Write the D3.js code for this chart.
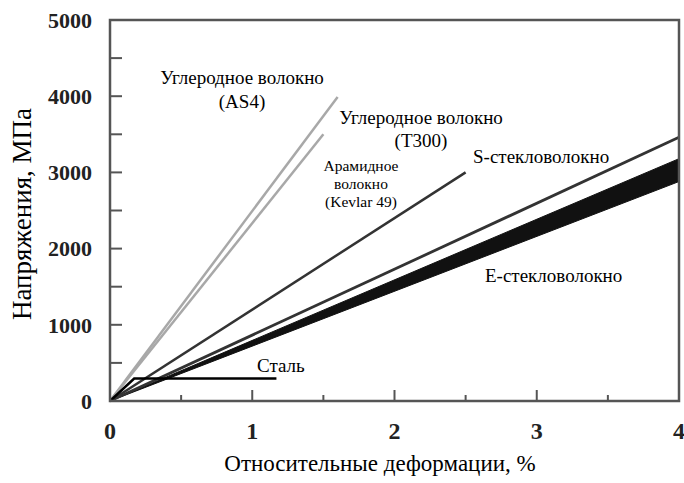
<!DOCTYPE html>
<html>
<head>
<meta charset="utf-8">
<script src="https://cdn.jsdelivr.net/npm/d3@7"></script>
<style>
  body { margin: 0; background: #fff; }
</style>
</head>
<body>
<div id="chart"></div>
<script>
// Data (strain %, stress MPa)
const as4 = [[0, 0], [1.6, 3990]];
const t300 = [[0, 0], [1.5, 3500]];
const kevlar = [[0, 0], [2.5, 3000]];
const sGlass = [[0, 0], [4.0, 3460]];
const eGlassUpper = [[0, 0], [4.0, 3180]];
const eGlassLower = [[0, 0], [4.0, 2880]];
const steel = [[0, 0], [0.17, 295], [1.17, 295]];

const xTicks = [0, 1, 2, 3, 4];
const xMinor = [0.5, 1.5, 2.5, 3.5];
const yTicks = [0, 1000, 2000, 3000, 4000, 5000];
const yMinor = [500, 1500, 2500, 3500, 4500];

const FONT = "'Liberation Serif', 'Times New Roman', Times, 'DejaVu Serif', serif";

const W = 684, H = 483;
const margin = { top: 20, right: 5, bottom: 82, left: 110 };
const width = W - margin.left - margin.right;
const height = H - margin.top - margin.bottom;

const svg = d3.select("#chart").append("svg")
    .attr("width", W)
    .attr("height", H)
    .style("font-family", FONT);

const g = svg.append("g")
    .attr("transform", `translate(${margin.left},${margin.top})`);

const x = d3.scaleLinear().domain([0, 4]).range([0, width]);
const y = d3.scaleLinear().domain([0, 5000]).range([height, 0]);

const line = d3.line().x(d => x(d[0])).y(d => y(d[1]));

// E-glass band
const band = eGlassUpper.concat(eGlassLower.slice().reverse());
g.append("path")
    .attr("d", line(band) + "Z")
    .attr("fill", "#111")
    .attr("stroke", "#111")
    .attr("stroke-width", 1);

// lines
const series = [
    { d: as4, color: "#a8a8a8", w: 2.5 },
    { d: t300, color: "#a8a8a8", w: 2.5 },
    { d: kevlar, color: "#333", w: 2.5 },
    { d: sGlass, color: "#333", w: 2.8 },
    { d: steel, color: "#000", w: 2.5 }
];
series.forEach(s => {
    g.append("path")
        .attr("d", line(s.d))
        .attr("fill", "none")
        .attr("stroke", s.color)
        .attr("stroke-width", s.w);
});

// frame
g.append("rect")
    .attr("width", width)
    .attr("height", height)
    .attr("fill", "none")
    .attr("stroke", "#555")
    .attr("stroke-width", 2.5);

// ticks (inward)
g.selectAll(".ytick").data(yTicks.concat(yMinor)).enter().append("line")
    .attr("x1", 0).attr("x2", 12)
    .attr("y1", d => y(d)).attr("y2", d => y(d))
    .attr("stroke", "#555").attr("stroke-width", 2);

g.selectAll(".xtick").data(xTicks.slice(1, 4)).enter().append("line")
    .attr("x1", d => x(d)).attr("x2", d => x(d))
    .attr("y1", height).attr("y2", height - 11)
    .attr("stroke", "#555").attr("stroke-width", 2);

g.selectAll(".xminor").data(xMinor).enter().append("line")
    .attr("x1", d => x(d)).attr("x2", d => x(d))
    .attr("y1", height).attr("y2", height - 6)
    .attr("stroke", "#555").attr("stroke-width", 2);

// tick labels
g.selectAll(".ylab").data(yTicks).enter().append("text")
    .attr("x", -18)
    .attr("y", d => y(d))
    .attr("dy", "0.35em")
    .attr("text-anchor", "end")
    .style("font-family", FONT)
    .style("font-size", "22px")
    .style("font-weight", "bold")
    .attr("fill", "#222")
    .text(d => d);

g.selectAll(".xlab").data(xTicks).enter().append("text")
    .attr("x", d => x(d))
    .attr("y", height + 38)
    .attr("text-anchor", "middle")
    .style("font-family", FONT)
    .style("font-size", "24px")
    .style("font-weight", "bold")
    .attr("fill", "#222")
    .text(d => d);

// axis titles
svg.append("text")
    .attr("x", 380)
    .attr("y", 471)
    .attr("text-anchor", "middle")
    .style("font-family", FONT)
    .style("font-size", "23px")
    .text("Относительные деформации, %");

svg.append("text")
    .attr("transform", "translate(31,214) rotate(-90)")
    .attr("text-anchor", "middle")
    .style("font-family", FONT)
    .style("font-size", "27px")
    .text("Напряжения, МПа");

// curve labels
const labels = [
    { t: "Углеродное волокно", x: 242, y: 84, s: 19, a: "middle" },
    { t: "(AS4)", x: 242, y: 108, s: 19, a: "middle" },
    { t: "Углеродное волокно", x: 421, y: 124, s: 19, a: "middle" },
    { t: "(T300)", x: 421, y: 147, s: 19, a: "middle" },
    { t: "Арамидное", x: 361, y: 171, s: 15.5, a: "middle" },
    { t: "волокно", x: 361, y: 189, s: 15.5, a: "middle" },
    { t: "(Kevlar 49)", x: 361, y: 207, s: 15.5, a: "middle" },
    { t: "S-стекловолокно", x: 473, y: 163, s: 19, a: "start" },
    { t: "E-стекловолокно", x: 485, y: 282, s: 19, a: "start" },
    { t: "Сталь", x: 257, y: 372, s: 19, a: "start" }
];
labels.forEach(l => {
    svg.append("text")
        .attr("x", l.x)
        .attr("y", l.y)
        .attr("text-anchor", l.a)
        .style("font-family", FONT)
        .style("font-size", l.s + "px")
        .text(l.t);
});
</script>
</body>
</html>
